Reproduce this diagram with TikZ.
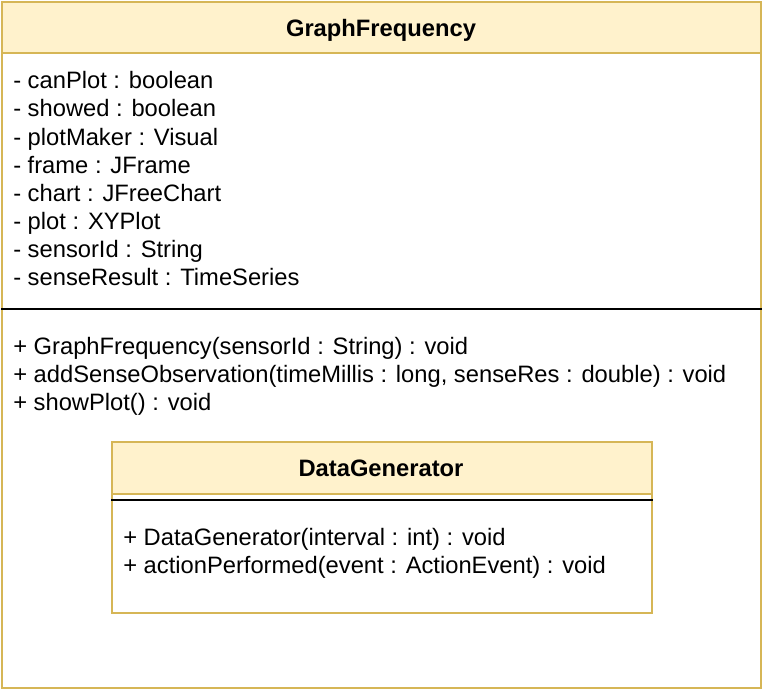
\documentclass[tikz,border=0pt]{standalone}
\usepackage{fontspec}
\setmainfont{Liberation Sans}
\usetikzlibrary{positioning}
\definecolor{hdrfill}{HTML}{FFF2CC}
\definecolor{hdrdraw}{HTML}{D6B656}

\begin{document}
\begin{tikzpicture}[
 x=0.75pt,y=-0.75pt,
 every node/.style={font=\fontsize{17.8}{21}\selectfont},
 classbox/.style={draw=hdrdraw,line width=1.5pt,fill=white,anchor=north west,inner sep=0pt},
 header/.style={draw=hdrdraw,line width=1.5pt,fill=hdrfill,anchor=north west,inner sep=0pt},
 title/.style={anchor=base,inner sep=0pt,font=\fontsize{17.8}{21}\selectfont\bfseries},
 member/.style={anchor=base west,inner sep=0pt},
 sep/.style={line width=1.5pt,black}
]
 \useasboundingbox (0,0) rectangle (762,688);
 % outer class
 \node[classbox,minimum width=569.25pt,minimum height=514.5pt] (graph) at (1,1) {};
 \node[header,minimum width=569.25pt,minimum height=38.25pt] (graphhead) at (1,1) {};
 \node[title] (graphtitle) at (381,37) {GraphFrequency};
 \node[member] (a1) at (13,89) {- canPlot : boolean};
 \node[member] (a2) at (13,117) {- showed : boolean};
 \node[member] (a3) at (13,145) {- plotMaker : Visual};
 \node[member] (a4) at (13,173) {- frame : JFrame};
 \node[member] (a5) at (13,201) {- chart : JFreeChart};
 \node[member] (a6) at (13,229) {- plot : XYPlot};
 \node[member] (a7) at (13,257) {- sensorId : String};
 \node[member] (a8) at (13,285) {- senseResult : TimeSeries};
 \draw[sep] (graph.west|-0,309) -- (graph.east|-0,309);
 \node[member] (m1) at (13,354) {+ GraphFrequency(sensorId : String) : void};
 \node[member] (m2) at (13,382) {+ addSenseObservation(timeMillis : long, senseRes : double) : void};
 \node[member] (m3) at (13,410) {+ showPlot() : void};
 % inner class
 \node[classbox,minimum width=405pt,minimum height=128.25pt] (datagen) at (111,441) {};
 \node[header,minimum width=405pt,minimum height=39pt] (datagenhead) at (111,441) {};
 \node[title] (datagentitle) at (381,476) {DataGenerator};
 \draw[sep] (datagen.west|-0,500) -- (datagen.east|-0,500);
 \node[member] (d1) at (123,545) {+ DataGenerator(interval : int) : void};
 \node[member] (d2) at (123,573) {+ actionPerformed(event : ActionEvent) : void};
\end{tikzpicture}
\end{document}
